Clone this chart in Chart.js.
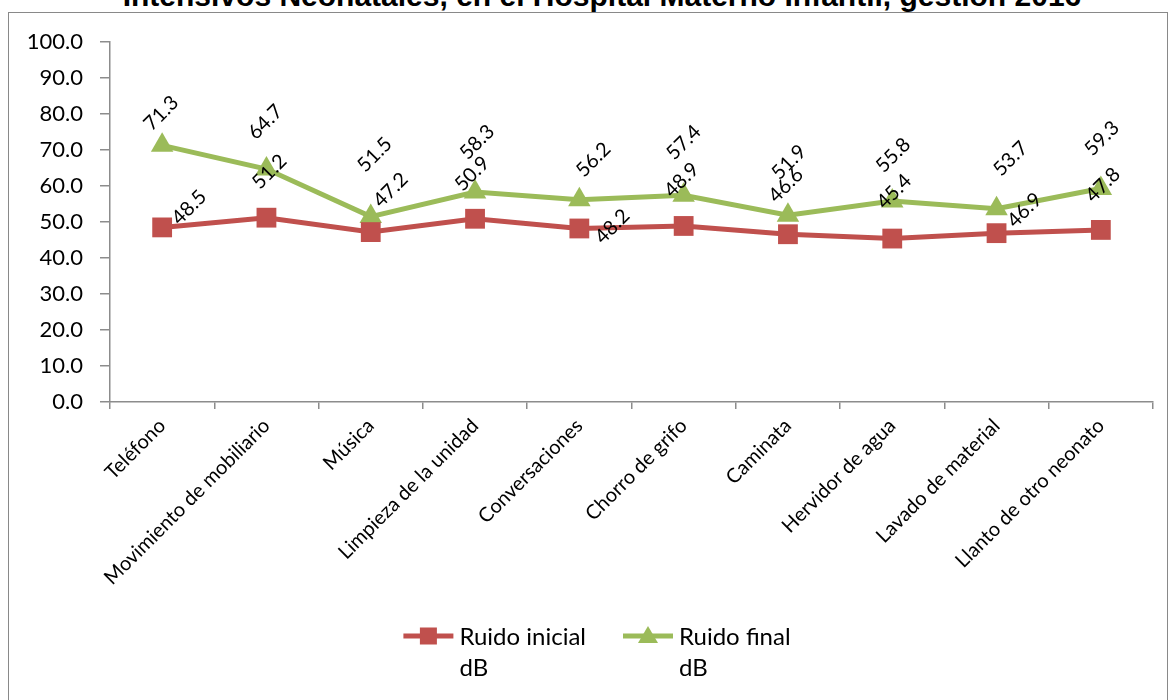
<!DOCTYPE html>
<html>
<head>
<meta charset="utf-8">
<script src="https://cdn.jsdelivr.net/npm/chart.js@4.4.1/dist/chart.umd.min.js"></script>
<style>
  html, body { margin: 0; padding: 0; background: #fff; }
  #wrap { position: relative; width: 1170px; height: 700px; overflow: hidden; }
  #title { position: absolute; left: 17px; width: 1170px; top: -21px; text-align: center;
           font: bold 30px "Liberation Sans", Arial, sans-serif; color: #000; white-space: nowrap; }
  #frame { position: absolute; left: 8px; top: 12px; width: 1160px; height: 720px;
           border: 1.5px solid #898989; box-sizing: border-box; }
  #chart { position: absolute; left: 0; top: 0; }
</style>
</head>
<body>
<div id="wrap">
  <div id="title">Intensivos Neonatales, en el Hospital Materno Infantil, gestión 2016</div>
  <div id="frame"></div>
  <canvas id="chart" width="1170" height="700"></canvas>
</div>
<script>
// data
const categories = ['Teléfono', 'Movimiento de mobiliario', 'Música', 'Limpieza de la unidad',
  'Conversaciones', 'Chorro de grifo', 'Caminata', 'Hervidor de agua', 'Lavado de material',
  'Llanto de otro neonato'];
const ruidoInicial = [48.5, 51.2, 47.2, 50.9, 48.2, 48.9, 46.6, 45.4, 46.9, 47.8];
const ruidoFinal = [71.3, 64.7, 51.5, 58.3, 56.2, 57.4, 51.9, 55.8, 53.7, 59.3];
const seriesNames = [['Ruido inicial', 'dB'], ['Ruido final', 'dB']];
const yMin = 0, yMax = 100, yStep = 10;

// where each value label sits, relative to its point (labels were moved by hand in the original)
const labelShiftInicial = [[27, -20], [3, -46], [20, -42], [-3, -45], [33, -2], [-2, -46], [-2, -49], [2, -47], [28, -23], [2, -45]];
const labelShiftFinal = [[-1, -32], [-1, -47], [4, -62], [2, -50], [14, -40], [0, -53], [1, -53], [1, -46], [14, -50], [1, -50]];

const RED = '#C0504D';
const GREEN = '#9BBB59';
const AXIS = '#8c8c8c';
const FONT = 'Lato, "Open Sans", sans-serif';

const valueLabels = {
    id: 'valueLabels',
    afterDatasetsDraw(chart) {
        const ctx = chart.ctx;
        ctx.save();
        ctx.fillStyle = '#000';
        ctx.font = '20px ' + FONT;
        ctx.textAlign = 'center';
        ctx.textBaseline = 'middle';
        chart.data.datasets.forEach((ds, di) => {
            const meta = chart.getDatasetMeta(di);
            meta.data.forEach((pt, i) => {
                const shift = ds.labelShift[i];
                ctx.save();
                ctx.translate(pt.x + shift[0], pt.y + shift[1]);
                ctx.rotate(-Math.PI / 4);
                ctx.fillText(ds.data[i].toFixed(1), 0, 0);
                ctx.restore();
            });
        });
        ctx.restore();
    }
};

// excel-like legend: line with marker, text wrapped on two lines
const bottomLegend = {
    id: 'bottomLegend',
    afterDraw(chart) {
        const ctx = chart.ctx;
        const y = 636;
        ctx.save();
        ctx.font = '24px ' + FONT;
        ctx.textBaseline = 'middle';
        const widths = chart.data.datasets.map(ds => 56 + Math.max(...ds.legendText.map(t => ctx.measureText(t).width)));
        const gap = 37;
        let x = chart.width / 2 + 12 - (widths.reduce((a, b) => a + b, 0) + gap) / 2;
        chart.data.datasets.forEach((ds, di) => {
            ctx.strokeStyle = ds.borderColor;
            ctx.lineWidth = 5;
            ctx.beginPath();
            ctx.moveTo(x, y);
            ctx.lineTo(x + 50, y);
            ctx.stroke();
            ctx.fillStyle = ds.borderColor;
            const cx = x + 25;
            if (ds.pointStyle === 'rect') {
                ctx.fillRect(cx - 8.5, y - 8.5, 17, 17);
            } else {
                ctx.beginPath();
                ctx.moveTo(cx, y - 10);
                ctx.lineTo(cx + 10, y + 7);
                ctx.lineTo(cx - 10, y + 7);
                ctx.closePath();
                ctx.fill();
            }
            ctx.fillStyle = '#000';
            ds.legendText.forEach((t, li) => ctx.fillText(t, x + 56, y + 1 + li * 31));
            x += widths[di] + gap;
        });
        ctx.restore();
    }
};

new Chart(document.getElementById('chart').getContext('2d'), {
    type: 'line',
    data: {
        labels: categories,
        datasets: [{
            label: seriesNames[0].join(' '),
            legendText: seriesNames[0],
            data: ruidoInicial,
            labelShift: labelShiftInicial,
            borderColor: RED,
            backgroundColor: RED,
            borderWidth: 5,
            pointStyle: 'rect',
            pointRadius: 14,
            pointBorderWidth: 0,
            tension: 0
        }, {
            label: seriesNames[1].join(' '),
            legendText: seriesNames[1],
            data: ruidoFinal,
            labelShift: labelShiftFinal,
            borderColor: GREEN,
            backgroundColor: GREEN,
            borderWidth: 5,
            pointStyle: 'triangle',
            pointRadius: 13,
            pointBorderWidth: 0,
            tension: 0
        }]
    },
    options: {
        responsive: false,
        animation: false,
        events: [],
        layout: { padding: { left: 0, right: 17, top: 42, bottom: 98 } },
        plugins: {
            legend: { display: false },
            title: { display: false },
            tooltip: { enabled: false }
        },
        scales: {
            x: {
                type: 'category',
                offset: true,
                grid: { offset: true, drawOnChartArea: false, drawTicks: true, tickLength: 7, color: AXIS, lineWidth: 1.5 },
                border: { display: true, color: AXIS, width: 1.5 },
                ticks: { autoSkip: false, maxRotation: 45, minRotation: 45, padding: 5, color: '#000',
                         font: { family: FONT, size: 20 } },
                afterFit(scale) { scale.height = 200; }
            },
            y: {
                min: yMin,
                max: yMax,
                grid: { drawOnChartArea: false, drawTicks: true, tickLength: 10, color: AXIS, lineWidth: 1.5 },
                border: { display: true, color: AXIS, width: 1.5 },
                ticks: { stepSize: yStep, padding: 17, color: '#000', font: { family: FONT, size: 22 },
                         callback: v => v.toFixed(1) },
                afterFit(scale) { scale.width = 110; }
            }
        }
    },
    plugins: [valueLabels, bottomLegend]
});
</script>
</body>
</html>
